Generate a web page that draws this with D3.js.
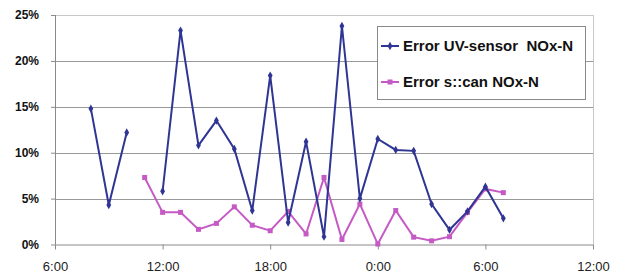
<!DOCTYPE html>
<meta charset="utf-8">
<style>
body { margin: 0; background: #fff; }
.axis text { font-family: "Liberation Sans", Arial, sans-serif; fill: #111; }
.axis--y text { font-weight: bold; font-size: 12px; }
.axis--x text { font-size: 13px; fill: #222; }
.axis path, .axis line { stroke: #8a8a8a; }
.grid line { stroke-width: 1; }
.legend text { font-family: "Liberation Sans", Arial, sans-serif; font-weight: bold; font-size: 15px; fill: #111; white-space: pre; }
</style>
<svg width="622" height="277"></svg>
<script src="https://d3js.org/d3.v7.min.js"></script>
<script>
// hours since 6:00 of day 1 (0:00 = 18, 6:00 next day = 24)
var uvHours = [2, 3, 4, null, 6, 7, 8, 9, 10, 11, 12, 13, 14, 15, 16, 17, 18, 19, 20, 21, 22, 23, 24, 25];
var uvValues = [14.8, 4.3, 12.2, null, 5.8, 23.3, 10.8, 13.5, 10.4, 3.7, 18.4, 2.4, 11.2, 0.85, 23.8, 5.0, 11.5, 10.3, 10.2, 4.4, 1.6, 3.6, 6.3, 2.85];
var scanHours = [5, 6, 7, 8, 9, 10, 11, 12, 13, 14, 15, 16, 17, 18, 19, 20, 21, 22, 23, 24, 25];
var scanValues = [7.3, 3.5, 3.5, 1.65, 2.3, 4.1, 2.1, 1.5, 3.6, 1.15, 7.3, 0.55, 4.4, 0.05, 3.7, 0.8, 0.4, 0.85, 3.5, 6.05, 5.65];
var xTicks = [0, 6, 12, 18, 24, 30];
var xTickLabels = ["6:00", "12:00", "18:00", "0:00", "6:00", "12:00"];
var yTicks = [0, 5, 10, 15, 20, 25];
var seriesNames = ["Error UV-sensor  NOx-N", "Error s::can NOx-N"];

var svg = d3.select("svg");
var plotLeft = 55, plotRight = 593, plotTop = 15, plotBottom = 244.5;

var x = d3.scaleLinear().domain([0, 30]).range([plotLeft, plotRight]);
var y = d3.scaleLinear().domain([0, 25]).range([plotBottom, plotTop]);

// gridlines
svg.append("g").attr("class", "grid")
  .selectAll("line").data(yTicks.slice(1)).enter().append("line")
  .attr("x1", plotLeft).attr("x2", plotRight)
  .attr("y1", function(d) { return Math.round(y(d)) + 0.5; })
  .attr("y2", function(d) { return Math.round(y(d)) + 0.5; })
  .style("stroke", function(d) { return d === 25 ? "#c8c8c8" : "#999"; });

// plot border right
svg.append("line").attr("x1", plotRight + 0.5).attr("x2", plotRight + 0.5)
  .attr("y1", plotTop).attr("y2", plotBottom)
  .style("stroke", "#c8c8c8");

var yAxis = svg.append("g").attr("class", "axis axis--y")
  .attr("transform", "translate(" + plotLeft + ",0)")
  .call(d3.axisLeft(y).tickValues(yTicks).tickSize(4).tickPadding(12)
    .tickFormat(function(d) { return d + "%"; }));
yAxis.select(".domain").attr("d", "M0.5," + plotTop + "V" + plotBottom);

var xAxis = svg.append("g").attr("class", "axis axis--x")
  .attr("transform", "translate(0," + plotBottom + ")")
  .call(d3.axisBottom(x).tickValues(xTicks).tickSize(5).tickPadding(12)
    .tickFormat(function(d, i) { return xTickLabels[i]; }));
xAxis.select(".domain").attr("d", "M" + plotLeft + ",0.5H" + plotRight);

var uvData = uvHours.map(function(h, i) { return { h: h, v: uvValues[i] }; });
var scanData = scanHours.map(function(h, i) { return { h: h, v: scanValues[i] }; });

var line = d3.line()
  .defined(function(d) { return d.v !== null; })
  .x(function(d) { return x(d.h); })
  .y(function(d) { return y(d.v); });

var blue = "#2f3593", pink = "#c55ac5";

svg.append("path").datum(scanData).attr("d", line)
  .attr("fill", "none").attr("stroke", pink).attr("stroke-width", 2);
svg.selectAll(".sq").data(scanData).enter().append("rect")
  .attr("x", function(d) { return x(d.h) - 2.5; })
  .attr("y", function(d) { return y(d.v) - 2.5; })
  .attr("width", 5).attr("height", 5).attr("fill", pink);

svg.append("path").datum(uvData).attr("d", line)
  .attr("fill", "none").attr("stroke", blue).attr("stroke-width", 2);
var diamond = d3.symbol().type(d3.symbolDiamond).size(20);
svg.selectAll(".dm").data(uvData.filter(function(d) { return d.v !== null; })).enter().append("path")
  .attr("d", diamond)
  .attr("transform", function(d) { return "translate(" + x(d.h) + "," + y(d.v) + ")"; })
  .attr("fill", blue);

// legend
var lg = svg.append("g").attr("class", "legend");
lg.append("rect").attr("x", 377.5).attr("y", 26.5).attr("width", 208).attr("height", 73)
  .attr("fill", "#fff").attr("stroke", "#8a8a8a");
var rows = [{ name: seriesNames[0], c: blue, y: 46 }, { name: seriesNames[1], c: pink, y: 82 }];
rows.forEach(function(r, i) {
  lg.append("line").attr("x1", 381).attr("x2", 399).attr("y1", r.y).attr("y2", r.y)
    .attr("stroke", r.c).attr("stroke-width", 2);
  if (i === 0) {
    lg.append("path").attr("d", diamond).attr("transform", "translate(390," + r.y + ")").attr("fill", r.c);
  } else {
    lg.append("rect").attr("x", 387.5).attr("y", r.y - 2.5).attr("width", 5).attr("height", 5).attr("fill", r.c);
  }
  lg.append("text").attr("x", 403).attr("y", r.y).attr("dy", "0.36em").text(r.name);
});
</script>
